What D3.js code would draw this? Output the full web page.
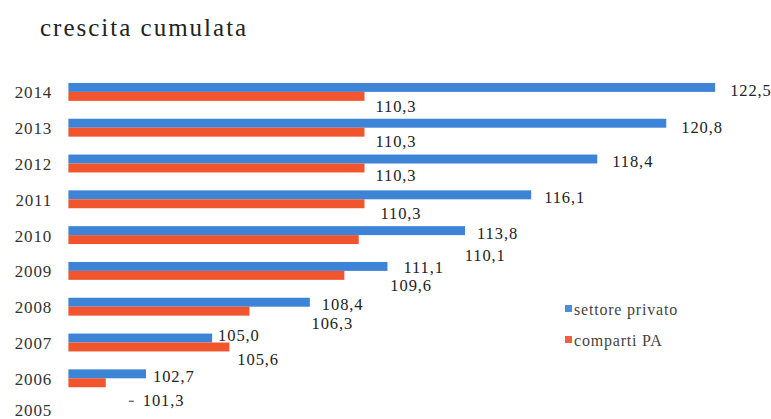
<!DOCTYPE html>
<html><head><meta charset="utf-8">
<script src="https://cdn.jsdelivr.net/npm/d3@7"></script>
<style>
html,body{margin:0;padding:0;background:#fff;}
svg{display:block;}
</style></head>
<body><svg id="chart" width="771" height="419"></svg>
<script>
const years = ["2014","2013","2012","2011","2010","2009","2008","2007","2006","2005"];
const privato = [122.5,120.8,118.4,116.1,113.8,111.1,108.4,105.0,102.7,100.0];
const compartiPA = [110.3,110.3,110.3,110.3,110.1,109.6,106.3,105.6,101.3,100.0];
const seriesNames = ["settore privato","comparti PA"];
const title = "crescita cumulata";

// manual label nudges (px), like hand-moved labels in the original
const bluNudge = [[2,0],[2,1],[2,0],[0,0],[-1,0],[3,-1.5],[-1,-1],[-7,-5.5],[-6,0],[0,0]];
const redNudge = [[0,0],[0,0],[0,-2],[5,0],[95,6],[35,0.5],[51,2.5],[-3,3],[26,8],[0,0]];

const FONT = "'Liberation Serif','Times New Roman',Tinos,'DejaVu Serif',serif";
const svg = d3.select("#chart").attr("font-family",FONT);
const blue = "#3d84d6", red = "#f0552e";

const x = d3.scaleLinear().domain([100,125]).range([68.4,787]);
const y = d3.scaleBand().domain(years).range([74,432]).paddingInner(0.5).paddingOuter(0.25);
const bh = y.bandwidth()/2;
const fmt = v => d3.format(".1f")(v).replace(".",",");

svg.append("text").attr("x",40).attr("y",36).attr("font-family",FONT).attr("font-size",25).attr("letter-spacing",2)
  .attr("fill","#222").text(title);

const yAxis = d3.axisLeft(y).tickSize(0).tickPadding(0);
const ga = svg.append("g").attr("transform","translate(52,0)").call(yAxis);
ga.attr("font-family",FONT);
ga.select(".domain").remove();
ga.selectAll("text").attr("font-family",FONT).attr("font-size",17)
  .attr("letter-spacing",0.8).attr("fill","#333").attr("dy","0.38em");
ga.selectAll(".tick").filter(d=>d==="2005").select("text").attr("dy","0.1em");

const rows = years.map((yr,i)=>({yr,i,p:privato[i],c:compartiPA[i]}));

svg.append("g").selectAll("rect").data(rows.filter(d=>d.p>100)).join("rect")
  .attr("x",x(100)).attr("y",d=>y(d.yr)).attr("width",d=>x(d.p)-x(100)).attr("height",bh).attr("fill",blue);
svg.append("g").selectAll("rect").data(rows.filter(d=>d.c>100)).join("rect")
  .attr("x",x(100)).attr("y",d=>y(d.yr)+bh).attr("width",d=>x(d.c)-x(100)).attr("height",bh).attr("fill",red);

const lab = svg.append("g").attr("font-family",FONT).attr("font-size",16.5).attr("letter-spacing",0.9).attr("fill","#222");
lab.selectAll("text.b").data(rows.filter(d=>d.p>100)).join("text").attr("class","b")
  .attr("x",d=>x(d.p)+13+bluNudge[d.i][0]).attr("y",d=>y(d.yr)+bh/2+2.5+bluNudge[d.i][1])
  .attr("dy","0.35em").text(d=>fmt(d.p));
lab.selectAll("text.r").data(rows.filter(d=>d.c>100)).join("text").attr("class","r")
  .attr("x",d=>x(d.c)+11+redNudge[d.i][0]).attr("y",d=>y(d.yr)+2*bh+5+redNudge[d.i][1])
  .attr("dy","0.35em").text(d=>fmt(d.c));
// leader dash for 2006 label
const r06 = rows[8];
svg.append("line").attr("x1",x(r06.c)+11+redNudge[8][0]-14).attr("x2",x(r06.c)+11+redNudge[8][0]-9)
  .attr("y1",y(r06.yr)+2*bh+5+redNudge[8][1]+1).attr("y2",y(r06.yr)+2*bh+5+redNudge[8][1]+1)
  .attr("stroke","#555").attr("stroke-width",1.2);

const leg = svg.append("g").attr("transform","translate(565,305)").attr("font-family",FONT);
seriesNames.forEach((n,i)=>{
  const g = leg.append("g").attr("transform",`translate(0,${i*31})`);
  g.append("rect").attr("width",7).attr("height",7).attr("fill",i?"#ee6040":"#4a8fdc");
  g.append("text").attr("x",9).attr("y",4).attr("dy","0.35em").attr("font-size",16)
    .attr("letter-spacing",0.8).attr("fill","#444").text(n);
});
</script></body></html>
